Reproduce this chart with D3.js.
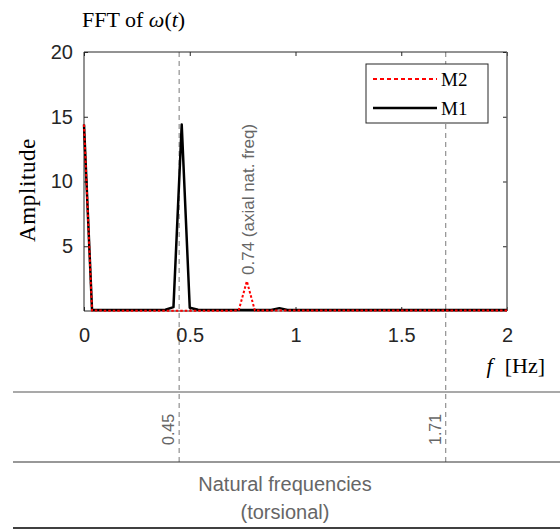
<!DOCTYPE html>
<html>
<head>
<meta charset="utf-8">
<script src="https://cdn.jsdelivr.net/npm/d3@7"></script>
<style>
  body { margin: 0; background: #fff; }
  svg { display: block; }
</style>
</head>
<body>
<svg id="chart" width="560" height="531"></svg>
<script>
// spectrum samples (Hz / amplitude)
const m1Freq = [0, 0.038, 0.385, 0.423, 0.462, 0.5, 0.539, 0.885, 0.924, 0.962, 1.5, 2.0];
const m1Amp = [14.4, 0.08, 0.1, 0.3, 14.4, 0.25, 0.1, 0.08, 0.22, 0.08, 0.07, 0.07];
const m2Freq = [0, 0.038, 0.5, 0.731, 0.77, 0.808, 1.5, 2.0];
const m2Amp = [14.4, 0.03, 0.02, 0.03, 2.3, 0.03, 0.03, 0.03];

const xTicks = [0, 0.5, 1, 1.5, 2];
const yTicks = [5, 10, 15, 20];
const torsionalFreqs = [0.45, 1.71];
const axialFreq = 0.77;
const axialLabel = "0.74 (axial nat. freq)";

const serif = "'Liberation Serif', 'Times New Roman', serif";
const sans = "'Liberation Sans', Arial, sans-serif";

const svg = d3.select("#chart");
const pLeft = 84, pRight = 507, pTop = 52, pBottom = 311;

const x = d3.scaleLinear().domain([0, 2]).range([pLeft, pRight]);
const y = d3.scaleLinear().domain([0, 20]).range([pBottom, pTop]);

// dashed natural frequency markers (run down into the table)
svg.selectAll(".nat")
  .data(torsionalFreqs)
  .enter()
  .append("line")
  .attr("x1", d => x(d)).attr("x2", d => x(d))
  .attr("y1", pTop).attr("y2", 462)
  .attr("stroke", "#999")
  .attr("stroke-width", 1.3)
  .attr("stroke-dasharray", "5,4");

// axes
const styleAxis = g => {
  g.select(".domain").remove();
  g.selectAll("line").attr("stroke", "#262626");
  g.selectAll("text").attr("fill", "#262626").style("font-family", sans).style("font-size", "20px");
};

svg.append("g")
  .attr("transform", `translate(0,${pBottom})`)
  .call(d3.axisBottom(x).tickValues(xTicks).tickFormat(d3.format("")).tickSizeInner(-4).tickSizeOuter(0).tickPadding(17))
  .call(styleAxis);
svg.append("g")
  .attr("transform", `translate(${pLeft},0)`)
  .call(d3.axisLeft(y).tickValues(yTicks).tickSizeInner(-4).tickSizeOuter(0).tickPadding(11))
  .call(styleAxis);
svg.append("g")
  .attr("transform", `translate(0,${pTop})`)
  .call(d3.axisTop(x).tickValues(xTicks).tickFormat("").tickSizeInner(-4).tickSizeOuter(0))
  .call(styleAxis);
svg.append("g")
  .attr("transform", `translate(${pRight},0)`)
  .call(d3.axisRight(y).tickValues(yTicks).tickFormat("").tickSizeInner(-4).tickSizeOuter(0))
  .call(styleAxis);

// box
svg.append("path")
  .attr("d", `M${pLeft},${pTop}H${pRight}`)
  .attr("stroke", "#262626").attr("fill", "none");
svg.append("path")
  .attr("d", `M${pLeft},${pTop}V${pBottom}H${pRight}`)
  .attr("stroke", "#262626").attr("fill", "none");
svg.append("path")
  .attr("d", `M${pRight},${pTop}V${pBottom}`)
  .attr("stroke", "#666").attr("stroke-width", 1.5).attr("fill", "none");

// series
const line = d3.line().x(d => x(d[0])).y(d => y(d[1]));
svg.append("path")
  .datum(d3.zip(m1Freq, m1Amp))
  .attr("d", line)
  .attr("fill", "none")
  .attr("stroke", "#000")
  .attr("stroke-width", 2.5)
  .attr("stroke-linejoin", "round");
svg.append("path")
  .datum(d3.zip(m2Freq, m2Amp))
  .attr("d", line)
  .attr("fill", "none")
  .attr("stroke", "#ff0000")
  .attr("stroke-width", 2)
  .attr("stroke-dasharray", "2.5,2");

// axial annotation
svg.append("text")
  .attr("transform", `translate(${x(axialFreq) + 7},275) rotate(-90)`)
  .style("font-family", sans).style("font-size", "17px")
  .attr("fill", "#666")
  .text(axialLabel);

// titles
const title = svg.append("text")
  .attr("x", 82).attr("y", 27)
  .style("font-family", serif).style("font-size", "22px")
  .attr("fill", "#000");
title.append("tspan").text("FFT of ");
title.append("tspan").style("font-style", "italic").text("ω");
title.append("tspan").text("(");
title.append("tspan").style("font-style", "italic").text("t");
title.append("tspan").text(")");

svg.append("text")
  .attr("transform", "translate(35,190) rotate(-90)")
  .attr("text-anchor", "middle")
  .style("font-family", serif).style("font-size", "23px")
  .style("letter-spacing", "0.6px")
  .attr("fill", "#000")
  .text("Amplitude");

const xl = svg.append("text")
  .attr("x", 545).attr("y", 373)
  .attr("text-anchor", "end")
  .style("font-family", serif).style("font-size", "22px")
  .attr("fill", "#000");
xl.append("tspan").style("font-style", "italic").text("f");
xl.append("tspan").attr("dx", 12).text("[Hz]");

// legend
const legend = svg.append("g");
legend.append("rect")
  .attr("x", 366).attr("y", 64).attr("width", 122).attr("height", 59)
  .attr("fill", "#fff").attr("stroke", "#262626");
const legItems = [
  { name: "M2", color: "#ff0000", dash: "4,3", w: 2, cy: 79 },
  { name: "M1", color: "#000", dash: null, w: 2.5, cy: 108 }
];
legItems.forEach(d => {
  legend.append("line")
    .attr("x1", 373).attr("x2", 437).attr("y1", d.cy).attr("y2", d.cy)
    .attr("stroke", d.color).attr("stroke-width", d.w)
    .attr("stroke-dasharray", d.dash);
  legend.append("text")
    .attr("x", 441).attr("y", d.cy + 6.5)
    .style("font-family", serif).style("font-size", "19px")
    .attr("fill", "#000")
    .text(d.name);
});

// table of natural frequencies below
svg.append("line").attr("x1", 13).attr("x2", 560).attr("y1", 392).attr("y2", 392)
  .attr("stroke", "#555").attr("stroke-width", 1.2);
svg.append("line").attr("x1", 13).attr("x2", 560).attr("y1", 462).attr("y2", 462)
  .attr("stroke", "#333").attr("stroke-width", 1.2);
svg.append("line").attr("x1", 13).attr("x2", 560).attr("y1", 528).attr("y2", 528)
  .attr("stroke", "#000").attr("stroke-width", 1.5);

svg.selectAll(".natLabel")
  .data(torsionalFreqs)
  .enter()
  .append("text")
  .attr("transform", d => `translate(${x(d) - 5},445) rotate(-90)`)
  .style("font-family", sans).style("font-size", "16px")
  .attr("fill", "#666")
  .text(d => d3.format(".2f")(d));

svg.append("text")
  .attr("x", 285).attr("y", 491)
  .attr("text-anchor", "middle")
  .style("font-family", sans).style("font-size", "20px")
  .attr("fill", "#666")
  .text("Natural frequencies");
svg.append("text")
  .attr("x", 285).attr("y", 519)
  .attr("text-anchor", "middle")
  .style("font-family", sans).style("font-size", "20px")
  .attr("fill", "#666")
  .text("(torsional)");
</script>
</body>
</html>
